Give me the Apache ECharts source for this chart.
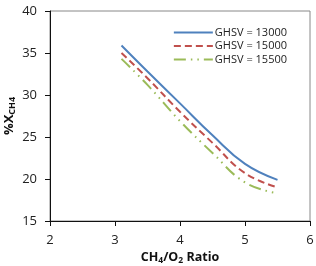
<!DOCTYPE html>
<html>
<head>
    <meta charset="utf-8">
    <title>CH4 conversion</title>
    <script src="https://cdn.jsdelivr.net/npm/echarts@6/dist/echarts.min.js"></script>
</head>
<body style="margin:0">
    <div id="main" style="width: 316px;height: 266px;"></div>
    <script type="text/javascript">
        // CH4/O2 ratio on x, %X_CH4 on y
        var ratio = [3.1, 3.5, 4, 4.5, 5, 5.5];
        var ghsv13000 = [35.9, 32.8, 29.0, 25.2, 21.8, 19.9];
        var ghsv15000 = [35.0, 32.0, 28.0, 24.3, 20.7, 19.0];
        var ghsv15500 = [34.3, 31.2, 26.9, 23.1, 19.6, 18.3];
        var names = ['GHSV = 13000', 'GHSV = 15000', 'GHSV = 15500'];

        function pairs(ys) {
            return ys.map(function (y, i) { return [ratio[i], y]; });
        }

        var myChart = echarts.init(document.getElementById('main'));
        var font = 'Open Sans, Liberation Sans, sans-serif';

        var option = {
            animation: false,
            grid: {
                left: 50, right: 6, top: 11, bottom: 45,
                outerBoundsMode: 'none',
                show: true, borderColor: '#888', borderWidth: 1
            },
            legend: {
                right: 24, top: 22,
                orient: 'vertical',
                itemWidth: 39, itemHeight: 10, itemGap: 2.5,
                itemStyle: { opacity: 0 },
                textStyle: { fontSize: 11, lineHeight: 11, color: '#222', fontFamily: font, padding: [0, 0, 0, -3] },
                data: names
            },
            xAxis: {
                type: 'value', min: 2, max: 6, interval: 1,
                name: '{b|CH}{s|4}{b|/O}{s|2}{b| Ratio}',
                nameLocation: 'middle', nameGap: 28, nameMoveOverlap: false,
                nameTextStyle: {
                    rich: {
                        b: { fontSize: 12.5, fontWeight: 'bold', color: '#111', fontFamily: font },
                        s: { fontSize: 8.5, fontWeight: 'bold', color: '#111', fontFamily: font, padding: [7, 0, 0, 0] }
                    }
                },
                axisLine: { lineStyle: { color: '#111' } },
                axisTick: { show: true, length: 5, lineStyle: { color: '#111' } },
                axisLabel: { fontSize: 13, color: '#222', fontFamily: font, margin: 13 },
                splitLine: { show: false }
            },
            yAxis: {
                type: 'value', min: 15, max: 40, interval: 5,
                name: '{b|%X}{s|CH4}',
                nameLocation: 'middle', nameGap: 33, nameMoveOverlap: false,
                nameTextStyle: {
                    rich: {
                        b: { fontSize: 13, fontWeight: 'bold', color: '#111', fontFamily: font },
                        s: { fontSize: 9, fontWeight: 'bold', color: '#111', fontFamily: font, padding: [7, 0, 0, 0] }
                    }
                },
                axisLine: { show: true, lineStyle: { color: '#111' } },
                axisTick: { show: true, length: 5, lineStyle: { color: '#111' } },
                axisLabel: { fontSize: 13, color: '#222', fontFamily: font, margin: 13 },
                splitLine: { show: false }
            },
            series: [{
                name: names[0], type: 'line', smooth: 0.45, symbol: 'none',
                data: pairs(ghsv13000),
                lineStyle: { color: '#4F81BD', width: 2 },
                itemStyle: { color: '#4F81BD' }
            }, {
                name: names[1], type: 'line', smooth: 0.45, symbol: 'none',
                data: pairs(ghsv15000),
                lineStyle: { color: '#C0504D', width: 2, type: [7, 4] },
                itemStyle: { color: '#C0504D' }
            }, {
                name: names[2], type: 'line', smooth: 0.45, symbol: 'none',
                data: pairs(ghsv15500),
                lineStyle: { color: '#9BBB59', width: 2, type: [12, 5, 1.5, 5, 1.5, 5] },
                itemStyle: { color: '#9BBB59' }
            }]
        };

        myChart.setOption(option);
    </script>
</body>
</html>
